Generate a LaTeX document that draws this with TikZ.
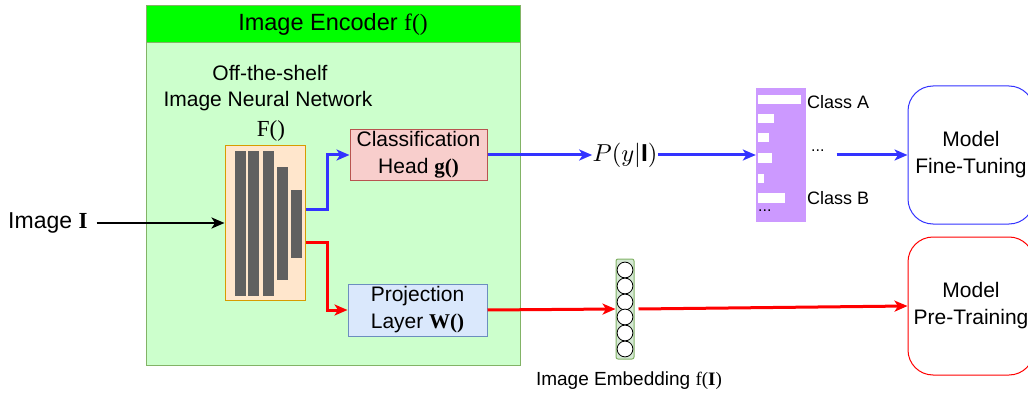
\documentclass[tikz,border=0pt]{standalone}
\usepackage{fontspec}
\setmainfont{Liberation Sans}
\newfontfamily\tms{Liberation Serif}
\usetikzlibrary{arrows.meta}
\definecolor{encgreen}{HTML}{00FF00}
\definecolor{enclight}{HTML}{CCFFCC}
\definecolor{encborder}{HTML}{82B366}
\definecolor{fillorange}{HTML}{FFE6CC}
\definecolor{orangeborder}{HTML}{D79B00}
\definecolor{bargray}{HTML}{606060}
\definecolor{pinkfill}{HTML}{F8CECC}
\definecolor{pinkborder}{HTML}{B85450}
\definecolor{bluefill}{HTML}{DAE8FC}
\definecolor{blueborder}{HTML}{6C8EBF}
\definecolor{purplefill}{HTML}{CC99FF}
\definecolor{arrowblue}{HTML}{3333FF}
\definecolor{arrowred}{HTML}{FF0000}
\definecolor{embfill}{HTML}{D5E8D4}
\begin{document}
\begin{tikzpicture}[x=1pt,y=-1pt,
  txt/.style={font=\fontsize{21}{27}\selectfont, align=center, inner sep=0pt},
  headtip/.style={-{Stealth[length=13pt,width=11pt,inset=3.5pt]}},
  bluearrow/.style={draw=arrowblue, line width=3pt, headtip},
  redarrow/.style={draw=arrowred, line width=3pt, headtip},
  blackarrow/.style={draw=black, line width=2.6pt, headtip},
  modelbox/.style={txt, rounded corners=25pt, fill=white, line width=1pt, minimum width=126pt, minimum height=138pt},
  classlbl/.style={font=\fontsize{18}{22}\selectfont, inner sep=0pt, anchor=west},
  whitebar/.style={fill=white},
  neuron/.style={draw=black, fill=white, line width=0.8pt}
]
\clip (0,0) rectangle (1028,393);
\fill[white] (0,0) rectangle (1028,393);

% encoder
\node[draw=encborder, fill=enclight, line width=1pt, minimum width=374pt, minimum height=322pt, inner sep=0pt] (enc) at (333,204) {};
\node[draw=encborder, fill=encgreen, line width=1pt, minimum width=374pt, minimum height=37pt, txt, font=\fontsize{23.5}{27}\selectfont] (title) at (333,24.5) {Image Encoder {\tms f()}};
\node[txt] (ots) at (270,73) {Off-the-shelf};
\node[txt] (inn) at (268,101) {Image Neural Network};
\node[txt, font=\fontsize{23}{26}\selectfont\tms] (Flbl) at (271,131) {F()};

% F box
\node[draw=orangeborder, fill=fillorange, line width=1pt, minimum width=80pt, minimum height=154pt, inner sep=0pt] (F) at (265,223) {};
\fill[bargray] (235,151) rectangle (246,296);
\fill[bargray] (248,151) rectangle (259,296);
\fill[bargray] (263,151) rectangle (274,296);
\fill[bargray] (277,167) rectangle (288,280);
\fill[bargray] (291,190) rectangle (302,258);

% heads
\node[draw=pinkborder, fill=pinkfill, line width=1pt, txt, minimum width=137pt, minimum height=50pt] (cls) at (418.5,155) {Classification\\Head {\tms\bfseries g()}};
\node[draw=blueborder, fill=bluefill, line width=1pt, txt, minimum width=139pt, minimum height=52pt] (proj) at (417.5,310) {Projection\\Layer {\tms\bfseries W()}};

% input
\node[txt, anchor=west, font=\fontsize{23}{27}\selectfont] (inp) at (8,223) {Image {\tms\bfseries I}};
\draw[blackarrow] ([xshift=9pt]inp.east) -- (F.west);

\draw[bluearrow] ([yshift=14pt]F.east) -- ++(22,0) |- (cls.west);
\draw[redarrow] ([yshift=-19pt]F.east) -- ++(22,0) |- (proj.west);

% probability
\node[inner sep=0pt, scale=2.45] (P) at (625,155) {$P(y|\mathbf{I})$};
\draw[bluearrow] (cls.east) -- (P.west);

\node[fill=purplefill, minimum width=50pt, minimum height=134pt, inner sep=0pt] (prob) at (781,155) {};
\fill[whitebar] (758,95) rectangle (801,104);
\fill[whitebar] (758,114) rectangle (774,123);
\fill[whitebar] (758,133) rectangle (769,142);
\fill[whitebar] (758,153) rectangle (772,163);
\fill[whitebar] (758,174) rectangle (764,183);
\fill[whitebar] (758,193) rectangle (785,203);
\node[classlbl, font=\fontsize{16}{20}\selectfont] (idots) at (758,211) {...};
\draw[bluearrow] (P.east) -- (prob.west);

\node[classlbl] (ca) at (807,102) {Class A};
\node[classlbl] (cb) at (807,198) {Class B};
\node[classlbl, font=\fontsize{16}{20}\selectfont] (dots) at (811,151) {...};

\node[modelbox, draw=arrowblue] (ft) at (971,155) {Model\\Fine-Tuning};
\node[modelbox, draw=arrowred] (pt) at (971,306) {Model\\Pre-Training};
\draw[bluearrow] ([xshift=12pt]dots.east |- ft.west) -- (ft.west);

% embedding
\node[draw=encborder, fill=embfill, rounded corners=2pt, line width=1pt, minimum width=18pt, minimum height=100pt, inner sep=0pt] (emb) at (625,309) {};
\foreach \yy in {270,286,302,317,333,349} \draw[neuron] (625,\yy) circle[radius=7.9];
\node[txt, font=\fontsize{19}{23}\selectfont] (emblbl) at (629,381) {Image Embedding {\tms f(\textbf{I})}};
\draw[redarrow] (proj.east) -- (emb.west);
\draw[redarrow] ([xshift=4pt]emb.east) -- (pt.west);
\end{tikzpicture}
\end{document}
